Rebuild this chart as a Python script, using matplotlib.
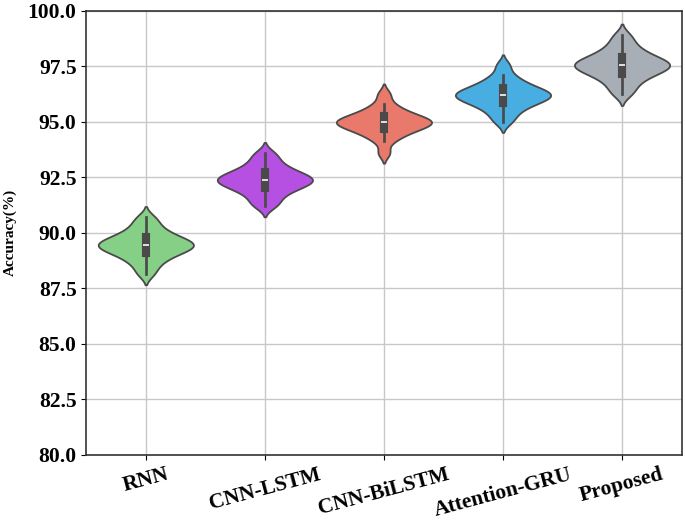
import matplotlib
matplotlib.use("Agg")
import matplotlib.pyplot as plt
import seaborn as sns
import pandas as pd

# accuracy samples
models = ["RNN", "CNN-LSTM", "CNN-BiLSTM", "Attention-GRU", "Proposed"]
rnn = [88.15, 88.48, 88.72, 88.89, 89.02, 89.12, 89.21, 89.29, 89.36, 89.42,
       89.48, 89.54, 89.61, 89.69, 89.78, 89.88, 90.01, 90.18, 90.42, 90.70]
cnn_lstm = [91.20, 91.41, 91.65, 91.82, 91.95, 92.05, 92.14, 92.22, 92.29,
            92.35, 92.41, 92.47, 92.54, 92.62, 92.71, 92.81, 92.94, 93.11,
            93.35, 93.60]
cnn_bilstm = [93.60, 94.12, 94.35, 94.49, 94.60, 94.69, 94.77, 94.84, 94.90,
              94.95, 95.00, 95.05, 95.11, 95.17, 95.25, 95.34, 95.45, 95.59,
              95.82, 96.25]
att_gru = [95.00, 95.28, 95.51, 95.67, 95.79, 95.89, 95.97, 96.05, 96.12,
           96.17, 96.23, 96.29, 96.35, 96.43, 96.51, 96.61, 96.73, 96.89,
           97.12, 97.55]
proposed = [96.25, 96.53, 96.78, 96.96, 97.10, 97.20, 97.30, 97.38, 97.46,
            97.52, 97.58, 97.65, 97.72, 97.80, 97.90, 98.00, 98.14, 98.32,
            98.57, 98.90]
colors = ["#86CF86", "#B650E2", "#E8796B", "#48AEE2", "#A8AEB6"]
yticks = [80.0, 82.5, 85.0, 87.5, 90.0, 92.5, 95.0, 97.5, 100.0]

rows = []
for name, vals in zip(models, [rnn, cnn_lstm, cnn_bilstm, att_gru, proposed]):
    for v in vals:
        rows.append((name, v))
df = pd.DataFrame(rows, columns=["model", "acc"])

fig = plt.figure(figsize=(6.85, 5.21), dpi=100)
ax = fig.add_axes([0.126, 0.127, 0.869, 0.852])

sns.violinplot(data=df, x="model", y="acc", hue="model", palette=colors,
               order=models, legend=False, linewidth=1.3, saturation=1,
               bw_adjust=0.7, cut=2, linecolor="#4a4a4a", ax=ax)

ax.set_axisbelow(True)
ax.grid(True, axis="both", color="#c8c8c8", linewidth=1.0)
ax.set_xlim(-0.5, 4.5)
ax.set_ylim(80, 100)
ax.set_yticks(yticks)
ax.set_yticklabels(["%.1f" % t for t in yticks], fontsize=15.5,
                   fontweight="bold", family="Liberation Serif")
ax.set_xticks(range(len(models)))
ax.set_xticklabels(models, fontsize=15.5, fontweight="bold",
                   family="Liberation Serif", rotation=15, ha="center")
ax.set_xlabel("")
ax.set_ylabel("Accuracy(%)", fontsize=11, fontweight="bold",
              family="Liberation Serif")
ax.yaxis.set_label_coords(-0.117, 0.5)
for s in ax.spines.values():
    s.set_color("#333333")
    s.set_linewidth(1.2)

fig.savefig("out.png", dpi=100)
